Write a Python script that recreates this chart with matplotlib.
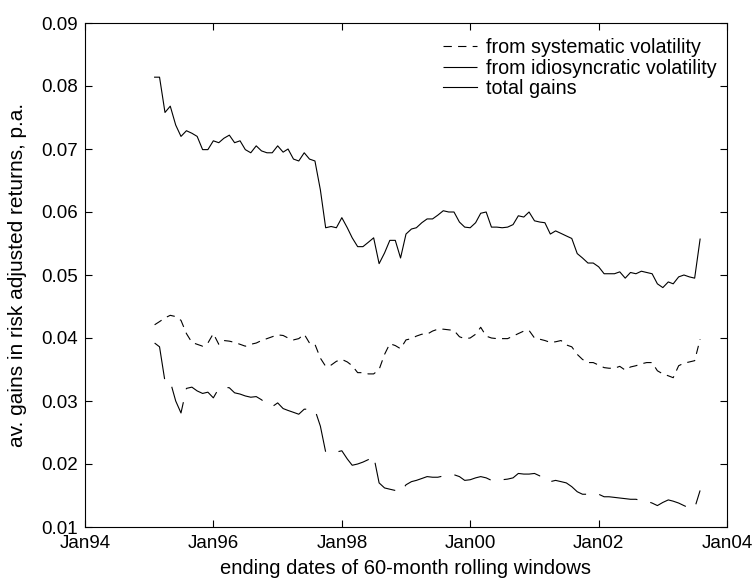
import numpy as np
import pandas as pd
import matplotlib
matplotlib.use("Agg")
import matplotlib.pyplot as plt
import matplotlib.dates as mdates

plt.rcParams['font.family'] = ['Liberation Sans', 'DejaVu Sans']
plt.rcParams['lines.scale_dashes'] = False

# monthly window end dates, Feb 1995 .. Aug 2003
dates = pd.date_range('1995-02-01', '2003-08-01', freq='MS')

total = [
    0.0814, 0.0814, 0.0758, 0.0768, 0.0738, 0.0720, 0.0729, 0.0725, 0.0720, 0.0699,
    0.0699, 0.0713, 0.0710, 0.0717, 0.0722, 0.0710, 0.0713, 0.0699, 0.0694, 0.0705,
    0.0697, 0.0694, 0.0694, 0.0705, 0.0695, 0.0700, 0.0684, 0.0681, 0.0694, 0.0684,
    0.0681, 0.0635, 0.0575, 0.0577, 0.0575, 0.0591, 0.0575, 0.0559, 0.0545, 0.0545,
    0.0552, 0.0559, 0.0518, 0.0535, 0.0555, 0.0555, 0.0527, 0.0565, 0.0573, 0.0575,
    0.0583, 0.0589, 0.0589, 0.0595, 0.0602, 0.0600, 0.0600, 0.0584, 0.0576, 0.0575,
    0.0583, 0.0598, 0.0600, 0.0576, 0.0576, 0.0575, 0.0576, 0.0580, 0.0594, 0.0592,
    0.0600, 0.0586, 0.0584, 0.0583, 0.0565, 0.0570, 0.0566, 0.0562, 0.0558, 0.0534,
    0.0527, 0.0519, 0.0519, 0.0513, 0.0502, 0.0502, 0.0502, 0.0505, 0.0495, 0.0504,
    0.0502, 0.0506, 0.0504, 0.0502, 0.0486, 0.0480, 0.0489, 0.0486, 0.0497, 0.0500,
    0.0497, 0.0495, 0.0557]

systematic = [
    0.0421, 0.0426, 0.0432, 0.0436, 0.0434, 0.0428, 0.0407, 0.0393, 0.0390, 0.0387,
    0.0392, 0.0407, 0.0390, 0.0396, 0.0395, 0.0393, 0.0390, 0.0387, 0.0390, 0.0392,
    0.0396, 0.0399, 0.0402, 0.0405, 0.0404, 0.0400, 0.0397, 0.0399, 0.0406, 0.0392,
    0.0390, 0.0368, 0.0355, 0.0357, 0.0363, 0.0366, 0.0362, 0.0356, 0.0345, 0.0345,
    0.0343, 0.0343, 0.0350, 0.0374, 0.0391, 0.0388, 0.0383, 0.0397, 0.0399, 0.0403,
    0.0406, 0.0406, 0.0411, 0.0414, 0.0414, 0.0413, 0.0412, 0.0402, 0.0399, 0.0400,
    0.0406, 0.0417, 0.0403, 0.0400, 0.0399, 0.0399, 0.0399, 0.0403, 0.0407, 0.0411,
    0.0412, 0.0400, 0.0398, 0.0396, 0.0393, 0.0394, 0.0396, 0.0389, 0.0386, 0.0374,
    0.0366, 0.0361, 0.0361, 0.0357, 0.0353, 0.0352, 0.0352, 0.0355, 0.0349, 0.0354,
    0.0356, 0.0359, 0.0361, 0.0361, 0.0348, 0.0343, 0.0340, 0.0337, 0.0356, 0.0360,
    0.0362, 0.0364, 0.0398]

idiosyncratic = [
    0.0392, 0.0386, 0.0331, 0.0331, 0.0300, 0.0281, 0.0320, 0.0322, 0.0316, 0.0312,
    0.0314, 0.0305, 0.0320, 0.0322, 0.0321, 0.0313, 0.0311, 0.0308, 0.0306, 0.0307,
    0.0302, 0.0295, 0.0291, 0.0297, 0.0288, 0.0285, 0.0282, 0.0279, 0.0287, 0.0287,
    0.0286, 0.0260, 0.0219, 0.0219, 0.0219, 0.0221, 0.0208, 0.0198, 0.0200, 0.0203,
    0.0207, 0.0213, 0.0170, 0.0162, 0.0160, 0.0158, 0.0155, 0.0167, 0.0172, 0.0174,
    0.0177, 0.0180, 0.0179, 0.0179, 0.0181, 0.0182, 0.0183, 0.0180, 0.0174, 0.0175,
    0.0178, 0.0180, 0.0178, 0.0174, 0.0174, 0.0175, 0.0176, 0.0178, 0.0185, 0.0184,
    0.0184, 0.0185, 0.0181, 0.0180, 0.0172, 0.0174, 0.0172, 0.0170, 0.0164, 0.0156,
    0.0152, 0.0152, 0.0152, 0.0152, 0.0148, 0.0148, 0.0147, 0.0146, 0.0145, 0.0144,
    0.0144, 0.0142, 0.0141, 0.0138, 0.0134, 0.0139, 0.0143, 0.0141, 0.0138, 0.0134,
    0.0130, 0.0130, 0.0158]

W, H = 754, 578
fig = plt.figure(figsize=(W / 100, H / 100), dpi=100)
ax = fig.add_axes([85 / W, 51 / H, 642 / W, 504 / H])

ax.plot(dates, systematic, color='k', lw=0.8, dashes=(6, 4.5),
        label='from systematic volatility')
ax.plot(dates, idiosyncratic, color='k', lw=0.8, dashes=(28, 9.5),
        label='from idiosyncratic volatility')
ax.plot(dates, total, color='k', lw=0.8, label='total gains')

ax.set_xlim(pd.Timestamp('1994-01-01'), pd.Timestamp('2004-01-01'))
ax.set_ylim(0.01, 0.09)
ax.xaxis.set_major_locator(mdates.YearLocator(2))
ax.xaxis.set_major_formatter(mdates.DateFormatter('%b%y'))
ax.set_yticks(np.arange(0.01, 0.0901, 0.01))
ax.yaxis.set_major_formatter(matplotlib.ticker.FormatStrFormatter('%.2f'))
ax.tick_params(direction='in', top=True, right=True, length=5, width=0.8,
               labelsize=13.5)
ax.tick_params(axis='x', pad=6)
ax.tick_params(axis='y', pad=5)
for s in ax.spines.values():
    s.set_linewidth(0.8)

ax.set_xlabel('ending dates of 60-month rolling windows', fontsize=14.5, labelpad=5)
ax.set_ylabel('av. gains in risk adjusted returns, p.a.', fontsize=15, labelpad=10)

ax.legend(loc='upper left', bbox_to_anchor=(443 / W, 1 - 38 / H),
          bbox_transform=fig.transFigure, frameon=False, fontsize=14.2,
          borderpad=0, borderaxespad=0, handlelength=1.7, handletextpad=0.5,
          labelspacing=0.08)

fig.savefig('out.png', dpi=100)
